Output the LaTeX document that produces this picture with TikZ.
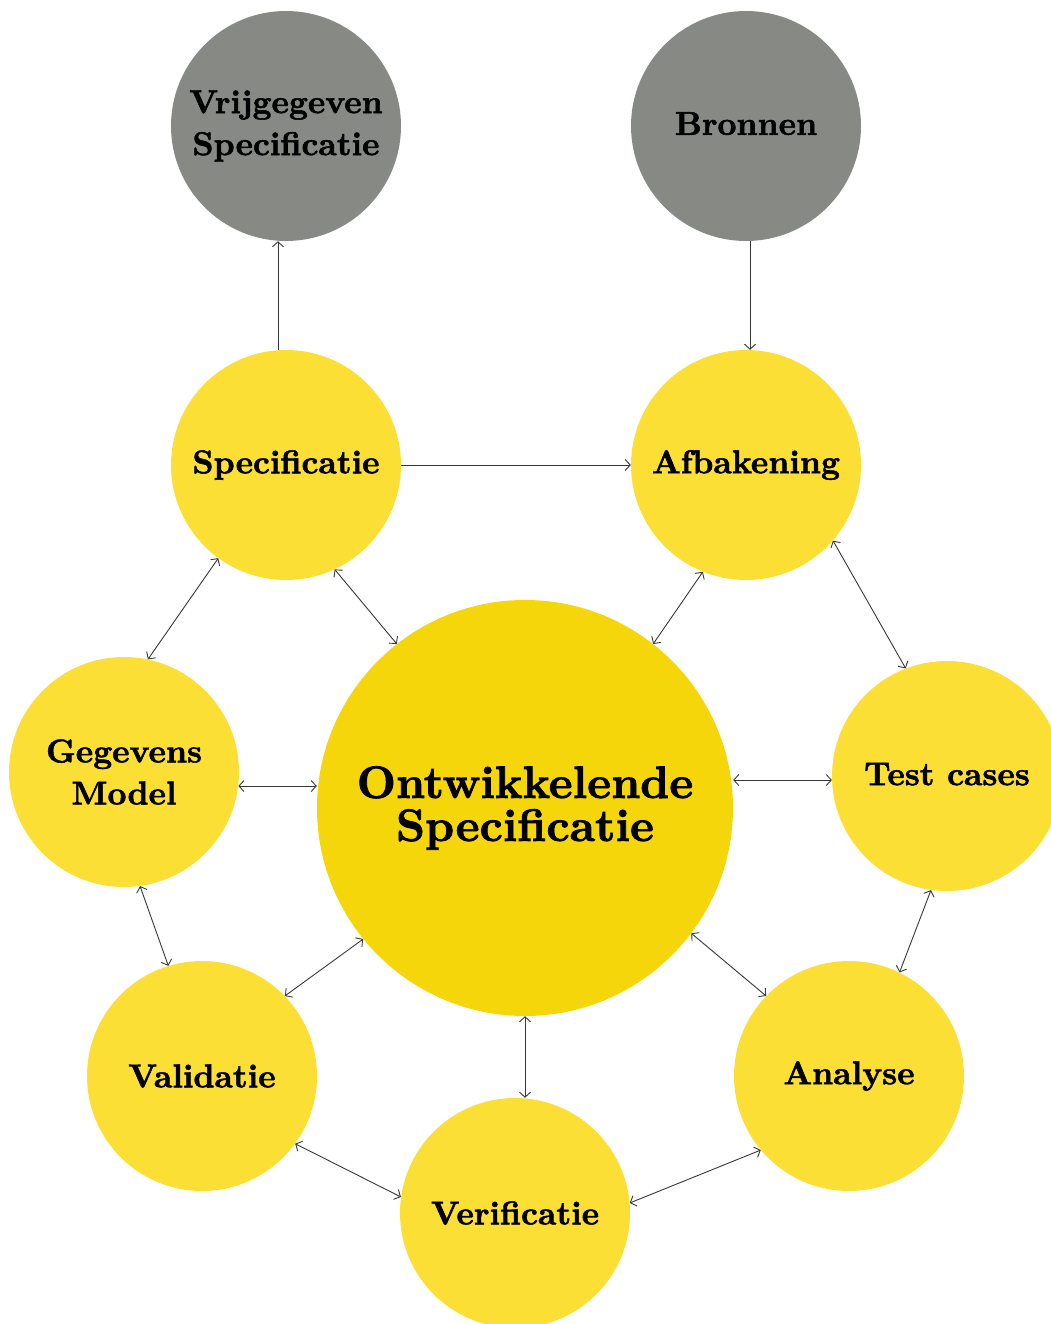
\documentclass[tikz,border=0pt]{standalone}
\usepackage{fontspec}
\usetikzlibrary{arrows.meta}
% a heavier cut of Latin Modern bold for the bubble labels
\newfontfamily\heavyfont{lmroman10-bold}[Extension=.otf, FakeBold=1.6]
\definecolor{hubyellow}{RGB}{245,214,10}
\definecolor{nodeyellow}{RGB}{252,223,52}
\definecolor{extgrey}{RGB}{135,138,132}
\definecolor{linkgrey}{RGB}{55,55,55}
\tikzset{
  bubble/.style={circle, fill=nodeyellow, draw=none, inner sep=0pt,
    minimum size=230pt, align=center,
    font=\heavyfont\fontsize{33}{42}\selectfont},
  extbubble/.style={bubble, fill=extgrey},
  hub/.style={bubble, fill=hubyellow, minimum size=416pt,
    font=\heavyfont\fontsize{45.5}{43}\selectfont},
  link/.style={draw=linkgrey, line width=0.9pt,
    arrows={Straight Barb[length=5pt,width=11pt]-Straight Barb[length=5pt,width=11pt]}},
  onelink/.style={draw=linkgrey, line width=0.9pt,
    -{Straight Barb[length=5pt,width=11pt]}}
}
\begin{document}
\begin{tikzpicture}[x=1pt,y=-1pt]
  \useasboundingbox (0,0) rectangle (1051,1324);
  \clip (0,0) rectangle (1051,1324);

  % external inputs / outputs
  \node[extbubble] (vrij) at (286,126) {Vrijgegeven\\Specificatie};
  \node[extbubble] (bron) at (746,126) {\raisebox{5pt}{Bronnen}};

  % central specification
  \node[hub] (cen) at (525,808) {Ontwikkelende\\Specificatie};

  % surrounding activities
  \node[bubble] (spec) at (286,465) {\raisebox{-3pt}{Specificatie}};
  \node[bubble] (afb)  at (746,465) {\raisebox{3pt}{Afbakening}};
  \node[bubble] (geg)  at (124,772) {Gegevens\\Model};
  \node[bubble] (tc)   at (947,776) {\raisebox{4pt}{Test cases}};
  \node[bubble] (val)  at (202,1076) {\raisebox{-7pt}{Validatie}};
  \node[bubble] (ana)  at (849,1076) {Analyse};
  \node[bubble] (ver)  at (515,1213) {\raisebox{-6pt}{Verificatie}};

  % one-way flows
  \draw[onelink] (spec.94) -- (spec.94 |- vrij.south);
  \draw[onelink] (bron.272) -- (bron.272 |- afb.north);
  \draw[onelink] (spec.east) -- (spec.east -| afb.west);

  % two-way links
  \draw[link] (spec.234) -- (geg.78);
  \draw[link] (spec.295) -- (cen.128);
  \draw[link] (afb.248) -- (cen.52);
  \draw[link] (afb.319) -- (tc.111);
  \draw[link] (geg.353) -- (geg.353 -| cen.west);
  \draw[link] (tc.182) -- (tc.182 -| cen.east);
  \draw[link] (geg.278) -- (val.107);
  \draw[link] (cen.219) -- (val.44);
  \draw[link] (cen.south) -- (cen.south |- ver.north);
  \draw[link] (cen.323) -- (ana.136);
  \draw[link] (tc.262) -- (ana.64);
  \draw[link] (val.324) -- (ver.172);
  \draw[link] (ver.5) -- (ana.220);
\end{tikzpicture}
\end{document}
